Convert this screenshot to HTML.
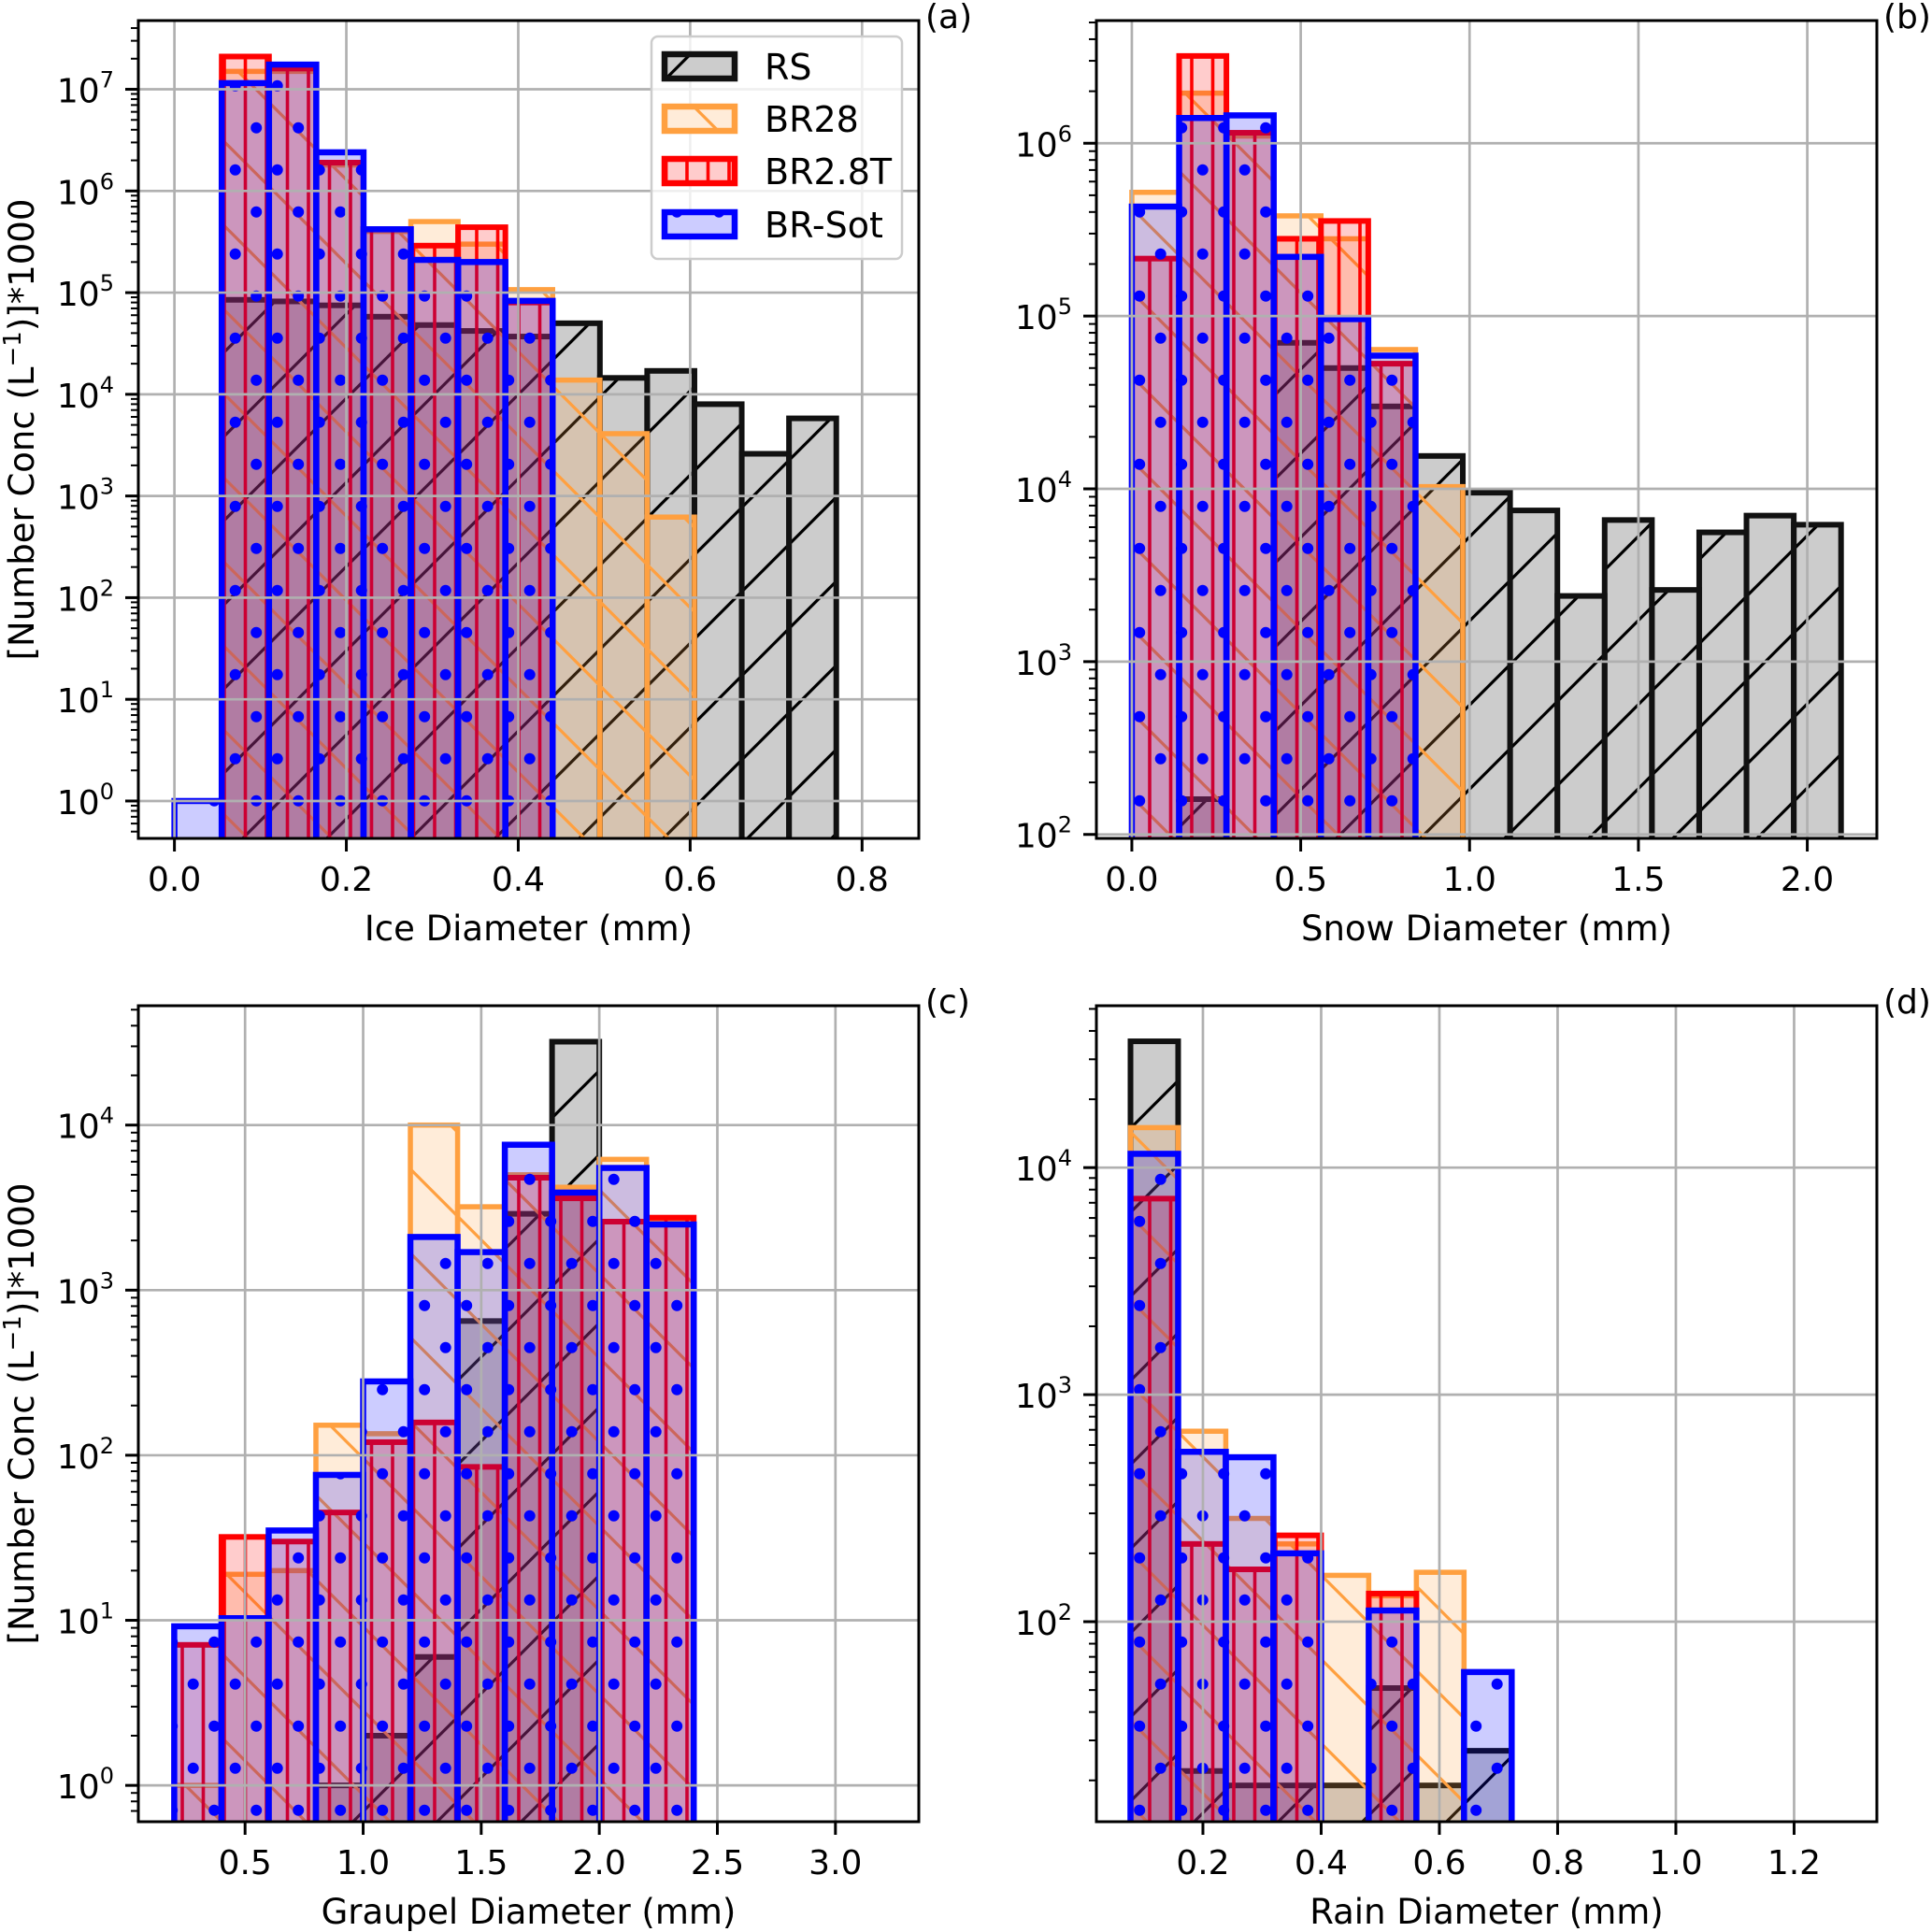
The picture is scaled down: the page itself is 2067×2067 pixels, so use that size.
<!DOCTYPE html>
<html><head><meta charset="utf-8"><style>
html,body{margin:0;padding:0;background:#fff}
svg{display:block;font-family:"DejaVu Sans","Liberation Sans",sans-serif}
</style></head><body>
<svg id="fig" xmlns="http://www.w3.org/2000/svg" width="2067" height="2067" viewBox="0 0 2067 2067">
<defs>
<pattern id="h-rs" patternUnits="userSpaceOnUse" width="90" height="90">
<path d="M-10,-3.4 L100,-113.4 M-10,86.6 L100,-23.4 M-10,176.6 L100,66.6" stroke="#000" stroke-width="3.2"/>
</pattern>
<pattern id="h-br28" patternUnits="userSpaceOnUse" width="90" height="90">
<path d="M-10,-98.3 L100,11.7 M-10,-8.3 L100,101.7 M-10,81.7 L100,191.7" stroke="#ffa040" stroke-width="3.2"/>
</pattern>
<pattern id="h-br28t" patternUnits="userSpaceOnUse" width="22.5" height="90">
<path d="M15,-5 L15,95" stroke="#ff0000" stroke-width="3.6"/>
</pattern>
<pattern id="h-sot" patternUnits="userSpaceOnUse" width="45" height="90">
<circle cx="26.7" cy="1.7" r="6" fill="#0000ff"/><circle cx="26.7" cy="91.7" r="6" fill="#0000ff"/>
<circle cx="4.2" cy="46.7" r="6" fill="#0000ff"/><circle cx="49.2" cy="46.7" r="6" fill="#0000ff"/>
</pattern>
</defs>
</svg>
<script>
// ---- data (number concentration per bin) ----
const seriesNames = ["RS", "BR28", "BR2.8T", "BR-Sot"];
// Ice panel (a)
const iceBinStart = 0.0, iceBinWidth = 0.055;
const iceRS    = [null, 8.5e4, 8.2e4, 7.5e4, 5.8e4, 4.8e4, 4.2e4, 3.7e4, 5e4, 1.45e4, 1.7e4, 8e3, 2.6e3, 5.8e3];
const iceBR28  = [null, 1.5e7, 1.5e7, 1.8e6, 4e5, 5e5, 3e5, 1.07e5, 1.38e4, 4.1e3, 620, null, null, null];
const iceBR28T = [null, 2.1e7, 1.6e7, 1.9e6, 4.2e5, 2.9e5, 4.4e5, 8e4, null, null, null, null, null, null];
const iceSot   = [1.0, 1.15e7, 1.75e7, 2.4e6, 4.2e5, 2.1e5, 2.0e5, 8.3e4, null, null, null, null, null, null];
// Snow panel (b)
const snowBinStart = 0.0, snowBinWidth = 0.14;
const snowRS    = [null, 160, null, 7e4, 5e4, 3e4, 1.55e4, 9.5e3, 7.5e3, 2.4e3, 6.6e3, 2.6e3, 5.6e3, 7e3, 6.2e3];
const snowBR28  = [5.2e5, 1.95e6, 1.1e6, 3.8e5, 2.8e5, 6.4e4, 1.03e4, null, null, null, null, null, null, null, null];
const snowBR28T = [2.15e5, 3.2e6, 1.15e6, 2.8e5, 3.55e5, 5.3e4, null, null, null, null, null, null, null, null, null];
const snowSot   = [4.3e5, 1.4e6, 1.45e6, 2.2e5, 9.6e4, 5.9e4, null, null, null, null, null, null, null, null, null];
// Graupel panel (c)
const graBinStart = 0.2, graBinWidth = 0.2;
const graRS    = [null, null, null, 1, 2, 6, 650, 2.9e3, 3.2e4, null, null];
const graBR28  = [1, 19, 20, 152, 135, 1e4, 3.2e3, 5e3, 4.2e3, 6.2e3, 2.7e3];
const graBR28T = [7.1, 32, 30, 45, 120, 158, 85, 4.8e3, 3.6e3, 2.6e3, 2.75e3];
const graSot   = [9.2, 10.3, 35, 76, 280, 2.1e3, 1.7e3, 7.6e3, 3.9e3, 5.5e3, 2.5e3];
// Rain panel (d)
const rainBinStart = 0.0775, rainBinWidth = 0.0806;
const rainRS    = [3.6e4, 22, 19, 19, 19, 51, 19, 27];
const rainBR28  = [1.5e4, 690, 285, 220, 160, 130, 165, null];
const rainBR28T = [7.3e3, 220, 170, 240, null, 133, null, null];
const rainSot   = [1.15e4, 560, 530, 200, null, 112, null, 60];
// tick labels
const iceXTicks = [0.0, 0.2, 0.4, 0.6, 0.8];
const snowXTicks = [0.0, 0.5, 1.0, 1.5, 2.0];
const graXTicks = [0.5, 1.0, 1.5, 2.0, 2.5, 3.0];
const rainXTicks = [0.2, 0.4, 0.6, 0.8, 1.0, 1.2];
const iceYExp = [0,1,2,3,4,5,6,7];
const snowYExp = [2,3,4,5,6];
const graYExp = [0,1,2,3,4];
const rainYExp = [2,3,4];

const NS = "http://www.w3.org/2000/svg";
const svg = document.getElementById('fig');
function mk(tag, attrs, parent){ const e=document.createElementNS(NS,tag); for(const k in attrs) e.setAttribute(k,attrs[k]); (parent||svg).appendChild(e); return e; }

const styles = [
  {fill:"#808080", fo:0.4, hatch:"url(#h-rs)", stroke:"#111", sw:6},
  {fill:"#ffa040", fo:0.2, hatch:"url(#h-br28)", stroke:"#ffa040", sw:5.5},
  {fill:"#ff0000", fo:0.2, hatch:"url(#h-br28t)", stroke:"#ff0000", sw:6},
  {fill:"#0000ff", fo:0.2, hatch:"url(#h-sot)", stroke:"#0000ff", sw:6.5}
];
const panels = [
  {id:"ice", tag:"(a)", L:148,R:983,T:22,B:897, xmin:-0.042,xmax:0.866, lmin:-0.368,lmax:7.676, start:iceBinStart,w:iceBinWidth, series:[iceRS,iceBR28,iceBR28T,iceSot], xt:iceXTicks, ye:iceYExp, xl:"Ice Diameter (mm)", yl:true, dec:1},
  {id:"snow", tag:"(b)", L:1173,R:2008,T:22,B:897, xmin:-0.105,xmax:2.206, lmin:1.977,lmax:6.71, start:snowBinStart,w:snowBinWidth, series:[snowRS,snowBR28,snowBR28T,snowSot], xt:snowXTicks, ye:snowYExp, xl:"Snow Diameter (mm)", yl:false, dec:1},
  {id:"graupel", tag:"(c)", L:148,R:983,T:1076,B:1949, xmin:0.048,xmax:3.353, lmin:-0.22,lmax:4.723, start:graBinStart,w:graBinWidth, series:[graRS,graBR28,graBR28T,graSot], xt:graXTicks, ye:graYExp, xl:"Graupel Diameter (mm)", yl:true, dec:1},
  {id:"rain", tag:"(d)", L:1173,R:2008,T:1076,B:1949, xmin:0.0198,xmax:1.340, lmin:1.119,lmax:4.713, start:rainBinStart,w:rainBinWidth, series:[rainRS,rainBR28,rainBR28T,rainSot], xt:rainXTicks, ye:rainYExp, xl:"Rain Diameter (mm)", yl:false, dec:1}
];
const seriesKeys = ["rs","br28","br28t","brsot"];

panels.forEach(p=>{
  const X = v => p.L + (v-p.xmin)/(p.xmax-p.xmin)*(p.R-p.L);
  const Y = v => p.B - (Math.log10(v)-p.lmin)/(p.lmax-p.lmin)*(p.B-p.T);
  const g = mk('g',{});
  
  
  const cp = mk('clipPath',{id:'clip-'+p.id}, g);
  mk('rect',{x:p.L,y:p.T,width:p.R-p.L,height:p.B-p.T}, cp);
  const plot = mk('g',{'clip-path':'url(#clip-'+p.id+')'}, g);
  p.series.forEach((vals,si)=>{
    const st = styles[si];
    const sg = mk('g',{}, plot);
    
    
    vals.forEach((v,i)=>{
      if(v===null||v===undefined) return;
      const x0 = X(p.start + i*p.w), x1 = X(p.start + (i+1)*p.w);
      const yt = Y(v), yb = p.B + 20;
      const bg = mk('g',{}, sg);
      
      
      mk('rect',{x:x0,y:yt,width:x1-x0,height:yb-yt,fill:st.fill,'fill-opacity':st.fo}, bg);
      mk('rect',{x:x0,y:yt,width:x1-x0,height:yb-yt,fill:st.hatch}, bg);
      mk('rect',{x:x0,y:yt,width:x1-x0,height:yb-yt,fill:'none',stroke:st.stroke,'stroke-width':st.sw}, bg);
    });
  });
  const grid = mk('g',{stroke:'#b0b0b0','stroke-width':2.7}, plot);
  
  
  p.xt.forEach(t=>{ mk('line',{x1:X(t),x2:X(t),y1:p.T,y2:p.B}, grid); });
  p.ye.forEach(e=>{ const y=Y(Math.pow(10,e)); mk('line',{x1:p.L,x2:p.R,y1:y,y2:y}, grid); });
  const sp = mk('rect',{x:p.L,y:p.T,width:p.R-p.L,height:p.B-p.T,fill:'none',stroke:'#000','stroke-width':3}, g);
  
  
  const xa = mk('g',{}, g);
  
  
  p.xt.forEach(t=>{
    const x=X(t);
    mk('line',{x1:x,x2:x,y1:p.B,y2:p.B+14,stroke:'#000','stroke-width':3}, xa);
    const tx = mk('text',{x:x,y:p.B+56,'text-anchor':'middle','font-size':36}, xa);
    tx.textContent = t.toFixed(p.dec);
    
    
  });
  const xlab = mk('text',{x:(p.L+p.R)/2,y:p.B+109,'text-anchor':'middle','font-size':37}, xa);
  xlab.textContent = p.xl;
  
  
  const ya = mk('g',{}, g);
  
  
  for(let d=Math.floor(p.lmin)-1; d<=Math.ceil(p.lmax); d++){
    for(let m=2;m<=9;m++){
      const lv = d+Math.log10(m);
      if(lv<p.lmin||lv>p.lmax) continue;
      const y=Y(Math.pow(10,lv));
      mk('line',{x1:p.L-8,x2:p.L,y1:y,y2:y,stroke:'#000','stroke-width':2}, ya);
    }
  }
  p.ye.forEach(e=>{
    const y=Y(Math.pow(10,e));
    mk('line',{x1:p.L-14,x2:p.L,y1:y,y2:y,stroke:'#000','stroke-width':3}, ya);
    const tx = mk('text',{x:p.L-26,y:y+14,'text-anchor':'end','font-size':36}, ya);
    
    
    tx.appendChild(document.createTextNode('10'));
    const s = mk('tspan',{dy:-16,'font-size':24}, tx);
    s.textContent = String(e);
  });
  if(p.yl){
    const cy=(p.T+p.B)/2;
    const yl = mk('text',{x:0,y:0,transform:'translate(36,'+cy+') rotate(-90)','text-anchor':'middle','font-size':37}, ya);
    
    
    yl.appendChild(document.createTextNode('[Number Conc (L'));
    const s1 = mk('tspan',{dy:-14,'font-size':26}, yl); s1.textContent='\u22121';
    const s2 = mk('tspan',{dy:14}, yl); s2.textContent=')]*1000';
  }
  const pl = mk('text',{x:p.R+7,y:p.T+8,'font-size':36}, g);
  pl.textContent = p.tag;
  
  
});

const lg = mk('g',{});


mk('rect',{x:697,y:39,width:268,height:238,rx:7,fill:'#fff','fill-opacity':0.8,stroke:'#cccccc','stroke-width':2.5}, lg);
const legRows = [71, 127, 183, 240];
seriesNames.forEach((n,i)=>{
  const st = styles[i];
  const e = mk('g',{}, lg);
  
  
  const y0 = legRows[i]-13;
  mk('rect',{x:711,y:y0,width:75,height:26,fill:'#fff'}, e);
  mk('rect',{x:711,y:y0,width:75,height:26,fill:st.fill,'fill-opacity':st.fo}, e);
  mk('rect',{x:711,y:y0,width:75,height:26,fill:st.hatch}, e);
  mk('rect',{x:711,y:y0,width:75,height:26,fill:'none',stroke:st.stroke,'stroke-width':6.5}, e);
  const t = mk('text',{x:818,y:legRows[i]+14,'font-size':38}, e);
  t.textContent = n;
});
</script>
</body></html>
